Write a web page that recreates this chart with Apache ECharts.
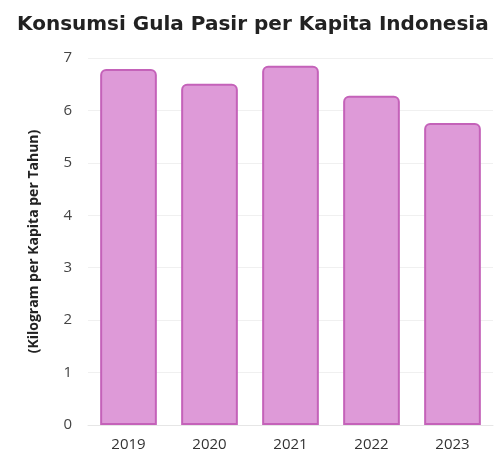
<!DOCTYPE html>
<html>
<head>
<meta charset="utf-8">
<script src="https://cdn.jsdelivr.net/npm/echarts@6/dist/echarts.min.js"></script>
<style>
  html, body { margin: 0; padding: 0; background: #fff; }
  #chart { width: 497px; height: 457px; }
</style>
</head>
<body>
<div id="chart"></div>
<script>
// data
var years = ['2019', '2020', '2021', '2022', '2023'];
var konsumsi = [6.79, 6.51, 6.85, 6.28, 5.76];
var yTicks = [0, 1, 2, 3, 4, 5, 6, 7];

var mychart = echarts.init(document.getElementById('chart'));
var option = {
    title: {
        text: 'Konsumsi Gula Pasir per Kapita Indonesia',
        left: 12,
        top: 10,
        textStyle: {
            fontFamily: 'DejaVu Sans',
            fontWeight: 'bold',
            fontSize: 20,
            color: '#222'
        }
    },
    grid: {
        left: 88,
        right: 4,
        top: 58,
        bottom: 32
    },
    xAxis: {
        type: 'category',
        data: years,
        axisLine: { lineStyle: { color: '#e6e6e6' } },
        axisTick: { show: false },
        axisLabel: {
            color: '#333',
            fontFamily: 'Open Sans',
            fontSize: 15,
            margin: 12
        }
    },
    yAxis: {
        type: 'value',
        min: yTicks[0],
        max: yTicks[yTicks.length - 1],
        interval: 1,
        name: '(Kilogram per Kapita per Tahun)',
        nameLocation: 'middle',
        nameRotate: 90,
        nameGap: 47,
        nameTextStyle: {
            fontFamily: 'Open Sans',
            fontWeight: 'bold',
            fontSize: 14,
            color: '#222'
        },
        axisLine: { show: false },
        axisTick: { show: false },
        axisLabel: {
            color: '#444',
            fontFamily: 'Open Sans',
            fontSize: 15,
            margin: 16
        },
        splitLine: { lineStyle: { color: '#f0f0f0' } }
    },
    series: [{
        type: 'bar',
        data: konsumsi,
        barCategoryGap: '30%',
        itemStyle: {
            color: '#de9ad8',
            borderColor: '#c462b9',
            borderWidth: 2,
            borderRadius: [5, 5, 0, 0]
        }
    }]
};
mychart.setOption(option);
</script>
</body>
</html>
